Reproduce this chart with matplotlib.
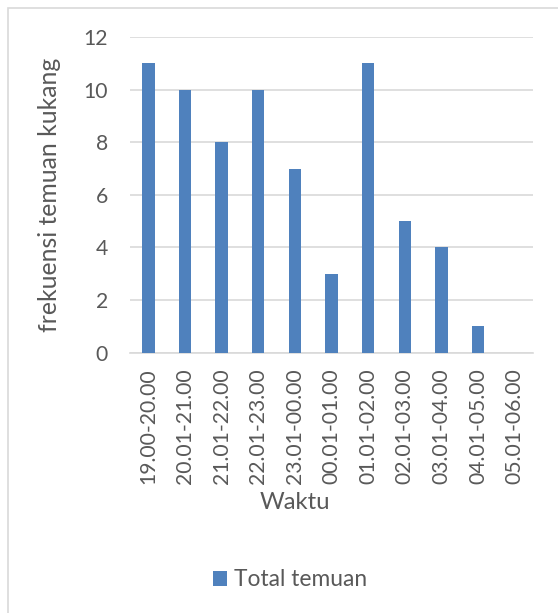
import numpy as np
import matplotlib.pyplot as plt
from matplotlib.patches import Rectangle

# data
waktu = ["19.00-20.00", "20.01-21.00", "21.01-22.00", "22.01-23.00", "23.01-00.00",
         "00.01-01.00", "01.01-02.00", "02.01-03.00", "03.01-04.00", "04.01-05.00",
         "05.01-06.00"]
total_temuan = [11, 10, 8, 10, 7, 3, 11, 5, 4, 1, 0]

plt.rcParams["font.family"] = ["Lato", "DejaVu Sans"]
txt = "#595959"
grid_c = "#d9d9d9"
bar_c = "#4f81bd"

W, H = 558, 613
fig = plt.figure(figsize=(W / 100, H / 100), dpi=100)

# chart border (only top and left visible, cropped on the other sides)
fig.patches.append(Rectangle((8 / W, -0.1), 2, 1 - 8 / H + 0.1, transform=fig.transFigure,
                             fill=False, edgecolor=grid_c, lw=1.2))

ax = fig.add_axes([130 / W, (H - 352.7) / H, 403 / W, (352.7 - 37) / H])
x = np.arange(len(waktu))
ax.bar(x, total_temuan, width=0.34, color=bar_c, label="Total temuan", zorder=3)

ax.set_xlim(-0.5, len(waktu) - 0.5)
ax.set_ylim(0, 12)
ax.set_yticks(np.arange(0, 13, 2))
ax.set_xticks(x)
ax.set_xticklabels(waktu, rotation=90)
ax.tick_params(axis="x", length=0, pad=11, labelsize=15.2, labelcolor=txt)
ax.tick_params(axis="y", length=0, pad=16, labelsize=15.2, labelcolor=txt)
ax.yaxis.grid(True, color=grid_c, lw=1.2, zorder=0)
for s in ["top", "right", "left"]:
    ax.spines[s].set_visible(False)
ax.spines["bottom"].set_color(grid_c)
ax.spines["bottom"].set_linewidth(1.2)

ax.set_ylabel("frekuensi temuan kukang", fontsize=17.8, color=txt)
ax.yaxis.set_label_coords(-0.172, 0.5)
ax.set_xlabel("Waktu", fontsize=17.2, color=txt)
ax.xaxis.set_label_coords(0.409, -0.44)

fig.legend(loc="center", bbox_to_anchor=(290 / W, (H - 580) / H), frameon=False,
           fontsize=16.4, labelcolor=txt, handlelength=0.6, handleheight=0.6,
           handletextpad=0.3)

fig.savefig("out.png", dpi=100)
